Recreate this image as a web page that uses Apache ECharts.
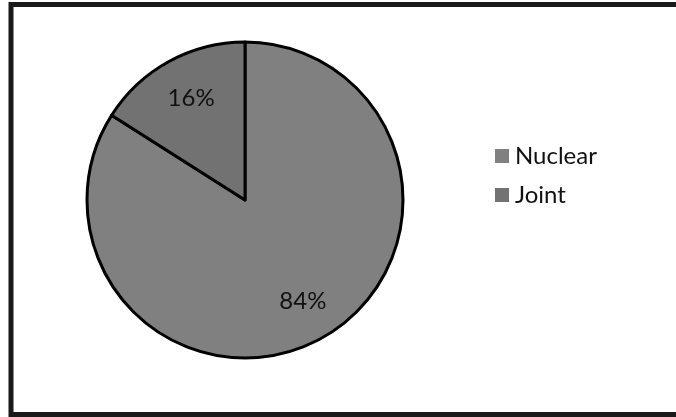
<!DOCTYPE html>
<html>
<head>
<meta charset="utf-8">
<script src="https://cdn.jsdelivr.net/npm/echarts@6/dist/echarts.min.js"></script>
<style>
  html, body { margin: 0; padding: 0; background: #fff; }
  #chart { width: 676px; height: 417px; }
</style>
</head>
<body>
<div id="chart"></div>
<script>
// Household type shares
const categories = ['Nuclear', 'Joint'];
const shares = [84, 16];
const sliceColors = ['#808080', '#727272'];

const chart = echarts.init(document.getElementById('chart'));

const pieData = categories.map((name, i) => ({
  name: name,
  value: shares[i],
  itemStyle: { color: sliceColors[i] }
}));

const font = 'Lato, "Open Sans", sans-serif';

chart.setOption({
  animation: false,
  backgroundColor: '#fff',
  graphic: [{
    type: 'rect',
    shape: { x: 11, y: 4.5, width: 720, height: 410 },
    style: { fill: 'none', stroke: '#1a1a1a', lineWidth: 5 },
    silent: true,
    z: 100
  }],
  legend: {
    orient: 'vertical',
    left: 490,
    top: 137,
    icon: 'rect',
    itemWidth: 14,
    itemHeight: 14,
    itemGap: 11,
    data: categories,
    itemStyle: { borderWidth: 0 },
    textStyle: { fontFamily: font, fontSize: 24, color: '#111', lineHeight: 28, padding: [0, 0, 0, 1] }
  },
  series: [
    {
      name: 'share',
      type: 'pie',
      center: [245, 200],
      radius: [0, 158],
      startAngle: 90,
      clockwise: true,
      data: pieData,
      label: { show: false },
      labelLine: { show: false },
      itemStyle: { borderColor: '#000', borderWidth: 3 },
      emphasis: { disabled: true }
    },
    {
      // label ring: transparent band whose middle sits at ~0.71 of the radius
      name: 'labels',
      type: 'pie',
      center: [247, 200],
      radius: [68, 158],
      startAngle: 90,
      clockwise: true,
      silent: true,
      legendHoverLink: false,
      data: categories.map((name, i) => ({ name: name, value: shares[i] })),
      itemStyle: { color: 'rgba(0,0,0,0)', borderWidth: 0 },
      label: {
        show: true,
        position: 'inside',
        formatter: '{c}%',
        fontFamily: font,
        fontSize: 24,
        color: '#111'
      },
      labelLine: { show: false },
      emphasis: { disabled: true },
      z: 3
    }
  ]
});
</script>
</body>
</html>
